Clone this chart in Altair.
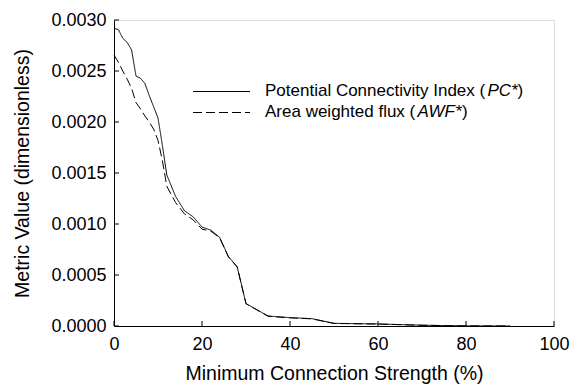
import altair as alt
import pandas as pd

# Minimum connection strength (%)
strength = [0, 1, 2, 3, 4, 5, 6, 7, 8, 9, 10, 11, 12, 14, 16, 18, 20, 22, 24, 26,
            28, 30, 35, 40, 45, 50, 60, 70, 80, 90]
# Potential Connectivity Index (PC*)
pc = [0.002919, 0.002905, 0.002821, 0.002780, 0.002706, 0.002450, 0.002430, 0.002380,
      0.002260, 0.002150, 0.002040, 0.001770, 0.001480, 0.001270, 0.001130, 0.001070,
      0.000970, 0.000940, 0.000870, 0.000680, 0.000580, 0.000220, 0.000098, 0.000082,
      0.000072, 0.000026, 0.000020, 0.000008, 0.000001, 0.000000]
# Area weighted flux (AWF*)
awf = [0.002657, 0.002585, 0.002500, 0.002420, 0.002330, 0.002190, 0.002130, 0.002060,
       0.002000, 0.001930, 0.001820, 0.001620, 0.001370, 0.001210, 0.001100, 0.001040,
       0.000950, 0.000930, 0.000865, 0.000678, 0.000578, 0.000218, 0.000096, 0.000080,
       0.000070, 0.000025, 0.000019, 0.000007, 0.000001, 0.000000]

series_names = ["PC", "AWF"]
x_ticks = [0, 20, 40, 60, 80, 100]
y_ticks = [0.0, 0.0005, 0.0010, 0.0015, 0.0020, 0.0025, 0.0030]

W, H = 440, 306
FONT = "Liberation Sans"

rows = []
for s, vals in zip(series_names, [pc, awf]):
    for xv, yv in zip(strength, vals):
        rows.append({"x": xv, "y": yv, "series": s})
df = pd.DataFrame(rows)

xscale = alt.Scale(domain=[0, 100], nice=False, zero=False)
yscale = alt.Scale(domain=[0, 0.003], nice=False)

x_axis = alt.Axis(values=x_ticks, format="d", grid=False, ticks=False, tickSize=0,
                  labelFlush=False, labelOverlap=False,
                  domainColor="black", domainWidth=1, labelFont=FONT, labelFontSize=18,
                  labelColor="black", labelPadding=23, labelBaseline="alphabetic",
                  title="Minimum Connection Strength (%)", titleFont=FONT, titleFontSize=19.5,
                  titleFontWeight="normal", titleColor="black", titleX=W / 2, titleY=53,
                  titleBaseline="alphabetic", titleAlign="center")
y_axis = alt.Axis(values=y_ticks, format=".4f", grid=False, ticks=False, tickSize=0,
                  labelFlush=False, labelOverlap=False,
                  domainColor="black", domainWidth=1, labelFont=FONT, labelFontSize=18,
                  labelColor="black", labelPadding=8, labelBaseline="middle",
                  title="Metric Value (dimensionless)", titleFont=FONT, titleFontSize=19.5,
                  titleFontWeight="normal", titleColor="black", titleX=-86, titleY=H / 2,
                  titleAngle=-90, titleBaseline="alphabetic", titleAlign="center")

lines = alt.Chart(df).mark_line(color="black", strokeWidth=1).encode(
    x=alt.X("x:Q", scale=xscale, axis=x_axis),
    y=alt.Y("y:Q", scale=yscale, axis=y_axis),
    strokeDash=alt.StrokeDash("series:N", scale=alt.Scale(domain=series_names,
                              range=[[1, 0], [9, 4]]), legend=None),
    detail="series:N",
)

yt = alt.Chart(pd.DataFrame({"v": y_ticks})).mark_rule(color="black", strokeWidth=1).encode(
    y=alt.Y("v:Q", scale=yscale), x=alt.value(0), x2=alt.value(5))
xt = alt.Chart(pd.DataFrame({"v": x_ticks})).mark_rule(color="black", strokeWidth=1).encode(
    x=alt.X("v:Q", scale=xscale), y=alt.value(H), y2=alt.value(H - 5))

# legend
leg_df = pd.DataFrame({"k": [0]})
l1 = alt.Chart(leg_df).mark_rule(color="black", strokeWidth=1).encode(
    x=alt.value(79), x2=alt.value(136), y=alt.value(71.5))
l2 = alt.Chart(leg_df).mark_rule(color="black", strokeWidth=1, strokeDash=[9, 4]).encode(
    x=alt.value(79), x2=alt.value(136), y=alt.value(92.5))

def txt(s, x, y, italic=False):
    return alt.Chart(leg_df).mark_text(text=s, font=FONT, fontSize=17, align="left",
                                       baseline="middle", color="black",
                                       fontStyle="italic" if italic else "normal").encode(
        x=alt.value(x), y=alt.value(y))

legend = [
    txt("Potential Connectivity Index (", 151, 71),
    txt("PC*", 373.5, 71, True),
    txt(")", 403.5, 71),
    txt("Area weighted flux (", 151, 92),
    txt("AWF*", 303.5, 92, True),
    txt(")", 348, 92),
]

chart = alt.layer(lines, yt, xt, l1, l2, *legend).properties(
    width=W, height=H,
    autosize=alt.AutoSizeParams(type="none"),
    padding={"left": 106, "top": 12, "right": 20, "bottom": 58},
).configure_view(stroke=None).configure(background="white")

chart.save("out.html", embed_options={"renderer": "svg", "actions": False})
